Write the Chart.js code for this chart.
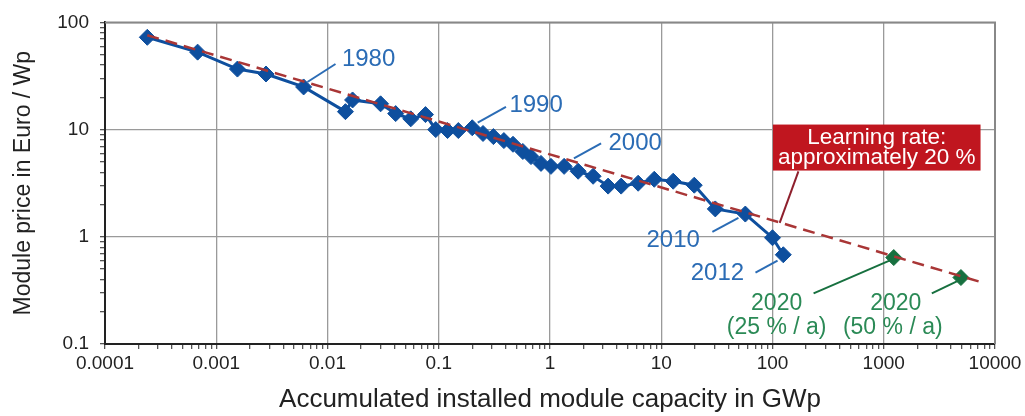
<!DOCTYPE html>
<html>
<head>
<meta charset="utf-8">
<script src="https://cdn.jsdelivr.net/npm/chart.js@4/dist/chart.umd.min.js"></script>
<style>
  body { margin: 0; background: #fff; }
  #wrap { width: 1025px; height: 416px; position: relative; }
</style>
</head>
<body>
<div id="wrap"><canvas id="learning-chart"></canvas></div>
<script>
// Historic module prices (Euro / Wp) vs accumulated capacity (GWp)
const capacity = [0.00024, 0.00068, 0.00155, 0.0028, 0.0061, 0.0145, 0.0168, 0.030, 0.041, 0.056,
  0.076, 0.094, 0.12, 0.15, 0.20, 0.25, 0.31, 0.385, 0.465, 0.57,
  0.675, 0.83, 1.02, 1.34, 1.79, 2.44, 3.33, 4.36, 6.2, 8.65,
  12.8, 19.8, 30.6, 57, 100, 125];
const price = [72.6, 52.8, 36.7, 33.0, 25.0, 14.7, 18.9, 17.4, 14.1, 12.6,
  13.8, 10.0, 9.8, 9.8, 10.4, 9.2, 8.6, 7.9, 7.3, 6.25,
  5.6, 4.84, 4.54, 4.54, 4.09, 3.67, 2.97, 2.97, 3.16, 3.44,
  3.30, 3.03, 1.82, 1.63, 0.98, 0.68];

// 2020 scenarios
const capacity2020 = [1230, 4940];
const price2020 = [0.64, 0.417];

// learning curve (approx. 20 %) end points
const trendX = [0.00024, 8000];
const trendY = [76, 0.37];

const xTickLabels = ['0.0001', '0.001', '0.01', '0.1', '1', '10', '100', '1000', '10000'];
const yTickLabels = ['0.1', '1', '10', '100'];

// annotations (data coords)
const yearLabels = ['1980', '1990', '2000', '2010', '2012'];
const yearLabelX = [0.0234, 0.75, 5.83, 12.8, 32];
const yearLabelY = [45.4, 17.0, 7.42, 0.918, 0.454];
const yearLeaders = [
  [0.0118, 40.9, 0.0066, 27.8],
  [0.402, 16.3, 0.224, 11.6],
  [2.88, 7.42, 1.64, 5.39],
  [28.8, 1.11, 49.4, 1.50],
  [70.3, 0.464, 111, 0.60]
];
const scenarioText = ['2020', '(25 % / a)', '2020', '(50 % / a)'];
const scenarioTextX = [109, 109, 1283, 1205];
const scenarioTextY = [0.24, 0.141, 0.24, 0.141];
const scenarioLeaders = [
  [234, 0.297, 1180, 0.612],
  [2704, 0.297, 4740, 0.392]
];
const boxText = ['Learning rate:', 'approximately 20 %'];
const boxCenter = [865, 6.8];
const boxLeader = [171, 4.08, 116, 1.35];

const FONT = "'Liberation Sans', Arial, sans-serif";
const BLUE = '#0e4f9e';
const BLUE_TXT = '#2b6cb5';
const GREEN = '#17703f';
const GREEN_TXT = '#2b8a56';
const RED = '#a93636';

function decadeTicks(lo, hi) {
  const out = [];
  for (let e = lo; e <= hi; e++) {
    for (let d = 1; d <= 9; d++) {
      if (e === hi && d > 1) break;
      out.push({ value: Number((d * Math.pow(10, e)).toPrecision(3)) });
    }
  }
  return out;
}
const isDecade = v => Math.abs(Math.log10(v) - Math.round(Math.log10(v))) < 1e-9;

const annotations = {
  id: 'annotations',
  afterDatasetsDraw(chart) {
    const { ctx, scales: { x, y } } = chart;
    const px = v => x.getPixelForValue(v);
    const py = v => y.getPixelForValue(v);
    const line = (seg, color, w) => {
      ctx.beginPath();
      ctx.moveTo(px(seg[0]), py(seg[1]));
      ctx.lineTo(px(seg[2]), py(seg[3]));
      ctx.strokeStyle = color;
      ctx.lineWidth = w;
      ctx.stroke();
    };
    ctx.save();
    ctx.textAlign = 'center';
    ctx.textBaseline = 'middle';

    // year labels
    ctx.font = '24px ' + FONT;
    ctx.fillStyle = BLUE_TXT;
    yearLabels.forEach((t, i) => {
      ctx.fillText(t, px(yearLabelX[i]), py(yearLabelY[i]));
      line(yearLeaders[i], BLUE_TXT, 2);
    });

    // 2020 scenarios
    ctx.font = '23px ' + FONT;
    ctx.fillStyle = GREEN_TXT;
    scenarioText.forEach((t, i) => ctx.fillText(t, px(scenarioTextX[i]), py(scenarioTextY[i])));
    scenarioLeaders.forEach(s => line(s, GREEN, 2));

    // learning rate box
    line(boxLeader, '#8e1f2c', 2);
    ctx.font = '22.5px ' + FONT;
    const w = Math.max(...boxText.map(t => ctx.measureText(t).width)) + 10;
    const h = 46;
    const cx = px(boxCenter[0]), cy = py(boxCenter[1]);
    ctx.fillStyle = '#c0161f';
    ctx.fillRect(cx - w / 2, cy - h / 2, w, h);
    ctx.fillStyle = '#fff';
    ctx.fillText(boxText[0], cx, cy - 10);
    ctx.fillText(boxText[1], cx, cy + 10);

    // frame top / right
    const a = chart.chartArea;
    ctx.strokeStyle = '#888';
    ctx.lineWidth = 2;
    ctx.beginPath();
    ctx.moveTo(a.left, a.top);
    ctx.lineTo(a.right, a.top);
    ctx.lineTo(a.right, a.bottom);
    ctx.stroke();
    ctx.restore();
  }
};

new Chart(document.getElementById('learning-chart'), {
  type: 'scatter',
  data: {
    datasets: [
      {
        label: 'Learning rate',
        data: trendX.map((v, i) => ({ x: v, y: trendY[i] })),
        showLine: true,
        borderColor: RED,
        borderWidth: 2.5,
        borderDash: [12, 7],
        pointRadius: 0
      },
      {
        label: 'Module price',
        data: capacity.map((v, i) => ({ x: v, y: price[i] })),
        showLine: true,
        borderColor: BLUE,
        borderWidth: 3,
        pointStyle: 'rectRot',
        pointRadius: 8,
        pointBackgroundColor: BLUE,
        pointBorderColor: BLUE,
        pointBorderWidth: 1
      },
      {
        label: '2020',
        data: capacity2020.map((v, i) => ({ x: v, y: price2020[i] })),
        showLine: false,
        pointStyle: 'rectRot',
        pointRadius: 8,
        pointBackgroundColor: GREEN,
        pointBorderColor: GREEN
      }
    ]
  },
  options: {
    responsive: true,
    maintainAspectRatio: false,
    animation: false,
    layout: { padding: { top: 20, right: 30, left: 0, bottom: 0 } },
    plugins: { legend: { display: false }, tooltip: { enabled: false } },
    scales: {
      x: {
        type: 'logarithmic',
        min: 0.0001,
        max: 10000,
        afterBuildTicks: s => { s.ticks = decadeTicks(-4, 4); },
        afterFit: s => { s.height = 72; },
        ticks: {
          autoSkip: false,
          maxRotation: 0,
          padding: 3,
          color: '#222',
          font: { family: FONT, size: 19 },
          callback: v => isDecade(v) ? xTickLabels[Math.round(Math.log10(v)) + 4] : ''
        },
        grid: {
          color: c => !c.tick ? 'transparent' : (isDecade(c.tick.value) ? (c.tick.value === 10000 ? '#666' : '#9a9a9a') : 'transparent'),
          tickColor: '#555',
          tickLength: 5,
          lineWidth: 1.3
        },
        border: { color: '#222', width: 2 },
        title: {
          display: true,
          text: 'Accumulated installed module capacity in GWp',
          color: '#222',
          font: { family: FONT, size: 26 },
          padding: { top: 0, bottom: 1 }
        }
      },
      y: {
        type: 'logarithmic',
        min: 0.1,
        max: 100,
        afterBuildTicks: s => { s.ticks = decadeTicks(-1, 2); },
        afterFit: s => { s.width = 105; },
        ticks: {
          autoSkip: false,
          padding: 11,
          color: '#222',
          font: { family: FONT, size: 19 },
          callback: v => isDecade(v) ? yTickLabels[Math.round(Math.log10(v)) + 1] : ''
        },
        grid: {
          color: c => !c.tick ? 'transparent' : (isDecade(c.tick.value) && c.tick.value > 0.1 ? '#9a9a9a' : 'transparent'),
          tickColor: '#555',
          tickLength: 5,
          lineWidth: 1.3
        },
        border: { color: '#222', width: 2 },
        title: {
          display: true,
          text: 'Module price in Euro / Wp',
          color: '#222',
          font: { family: FONT, size: 23 },
          padding: { top: 10, bottom: 0 }
        }
      }
    }
  },
  plugins: [annotations]
});
</script>
</body>
</html>
